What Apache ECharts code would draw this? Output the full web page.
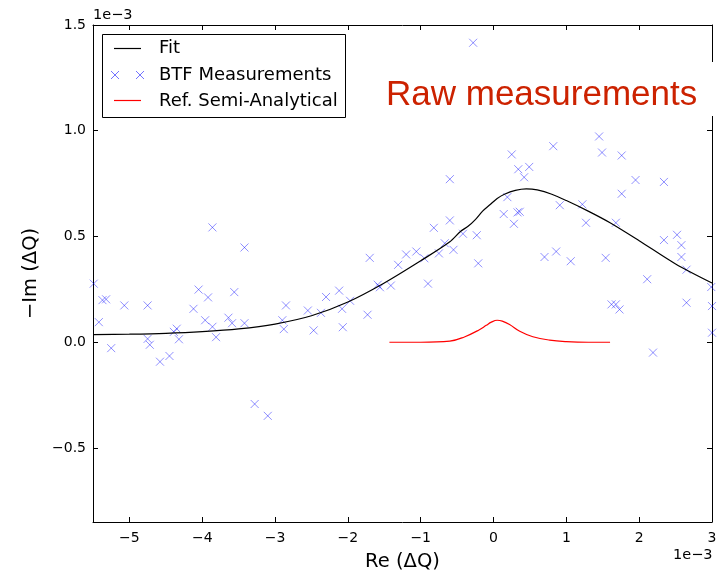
<!DOCTYPE html>
<html>
<head>
<meta charset="utf-8">
<script src="https://cdn.jsdelivr.net/npm/echarts@6/dist/echarts.min.js"></script>
<style>html,body{margin:0;padding:0;background:#fff;}#c{width:727px;height:573px;}</style>
</head>
<body>
<div id="c"></div>
<script>
// values in units of 1e-3
const btfRe = [-5.49,-5.37,-5.32,-5.42,-5.25,-5.07,-4.75,-4.75,-4.72,-4.58,-4.45,-4.39,-4.35,-4.32,-4.12,-4.05,-3.92,-3.96,-3.86,-3.86,-3.81,-3.64,-3.59,-3.56,-3.42,-3.42,-3.28,-3.10,-2.85,-2.90,-2.88,-2.55,-2.47,-2.37,-2.30,-2.12,-2.08,-2.07,-1.97,-1.73,-1.70,-1.59,-1.56,-1.41,-1.31,-1.20,-1.06,-0.95,-0.90,-0.82,-0.75,-0.67,-0.60,-0.55,-0.42,-0.23,-0.21,0.14,0.28,0.33,0.36,-0.28,-0.60,0.25,0.34,0.19,0.49,0.42,0.82,1.45,1.49,1.76,1.76,1.95,2.34,0.91,1.22,1.27,1.68,0.70,0.86,1.06,1.54,1.62,1.68,1.73,2.11,2.19,2.34,2.52,2.58,2.58,2.65,2.65,2.99,3.0,3.0];
const btfIm = [0.277,0.199,0.203,0.095,-0.028,0.174,0.174,0.016,-0.012,-0.092,-0.065,0.049,0.064,0.014,0.158,0.249,0.212,0.104,0.543,0.073,0.024,0.116,0.090,0.237,0.448,0.090,-0.292,-0.348,0.174,0.104,0.062,0.150,0.056,0.139,0.214,0.244,0.158,0.071,0.196,0.130,0.399,0.272,0.260,0.268,0.366,0.415,0.429,0.397,0.277,0.541,0.420,0.468,0.576,0.437,0.513,0.506,0.373,0.606,0.560,0.614,0.617,1.416,0.771,0.888,0.818,0.686,0.829,0.780,0.927,0.973,0.897,0.883,0.702,0.767,0.758,0.648,0.652,0.565,0.565,0.403,0.429,0.383,0.399,0.179,0.179,0.155,0.298,-0.049,0.483,0.508,0.459,0.403,0.343,0.187,0.261,0.171,0.045];

const fitRe = [-5.5,-5.0,-4.5,-4.0,-3.5,-3.0,-2.5,-2.0,-1.5,-1.0,-0.6,-0.45,-0.35,-0.25,-0.15,-0.05,0.05,0.15,0.3,0.45,0.6,0.8,1.0,1.3,1.6,2.0,2.5,3.0];
const fitIm = [0.036,0.038,0.042,0.050,0.063,0.086,0.125,0.190,0.280,0.385,0.475,0.525,0.548,0.580,0.620,0.650,0.680,0.700,0.718,0.725,0.720,0.700,0.670,0.620,0.565,0.480,0.370,0.280];

const refRe = [-1.43,-1.0,-0.6,-0.4,-0.2,-0.1,-0.03,0.05,0.12,0.22,0.36,0.54,0.77,1.0,1.3,1.6];
const refIm = [0.0,0.0,0.005,0.025,0.058,0.080,0.095,0.104,0.100,0.084,0.052,0.026,0.010,0.003,0.0,0.0];

const xTicks = [-5,-4,-3,-2,-1,0,1,2,3];
const yTicks = [-0.5,0.0,0.5,1.0,1.5];

const zip = (a,b) => a.map((v,i)=>[v,b[i]]);
const minus = s => String(s).replace('-', '\u2212');
const FONT = 'DejaVu Sans';

const chart = echarts.init(document.getElementById('c'), null, {renderer:'canvas'});

const baseX = {
  type:'value', min:-5.5, max:3,
  axisLine:{show:true, onZero:false, lineStyle:{color:'#000', width:1}},
  axisTick:{show:true, inside:true, length:5, customValues:xTicks, lineStyle:{color:'#000'}},
  splitLine:{show:false}
};
const baseY = {
  type:'value', min:-0.85, max:1.5,
  axisLine:{show:true, onZero:false, lineStyle:{color:'#000', width:1}},
  axisTick:{show:true, inside:true, length:5, customValues:yTicks, lineStyle:{color:'#000'}},
  splitLine:{show:false}
};

const cross = 'path://M0,0L10,10M10,0L0,10';
const xcol = 'rgba(0,0,255,0.55)';

function crossLines(cx, cy) {
  return [
    {type:'line', z:101, shape:{x1:cx-4, y1:cy-4, x2:cx+4, y2:cy+4}, style:{stroke:xcol, lineWidth:1}},
    {type:'line', z:101, shape:{x1:cx-4, y1:cy+4, x2:cx+4, y2:cy-4}, style:{stroke:xcol, lineWidth:1}}
  ];
}

chart.setOption({
  animation:false,
  backgroundColor:'#fff',
  grid:{left:93, right:15, top:25, bottom:51, containLabel:false, outerBoundsMode:'none'},
  xAxis:[
    Object.assign({}, baseX, {position:'bottom',
      name:'Re (\u0394Q)', nameLocation:'middle', nameGap:30,
      nameTextStyle:{fontFamily:FONT, fontSize:19.5, color:'#000'},
      axisLabel:{show:true, customValues:xTicks, margin:9, fontFamily:FONT, fontSize:14, color:'#000', formatter:v=>minus(v)}}),
    Object.assign({}, baseX, {position:'top', axisLabel:{show:false}})
  ],
  yAxis:[
    Object.assign({}, baseY, {position:'left',
      name:'\u2212Im (\u0394Q)', nameLocation:'middle', nameGap:47, nameRotate:90,
      nameTextStyle:{fontFamily:FONT, fontSize:19.5, color:'#000'},
      axisLabel:{show:true, customValues:yTicks, margin:7, fontFamily:FONT, fontSize:14, color:'#000', formatter:v=>minus(v.toFixed(1))}}),
    Object.assign({}, baseY, {position:'right', axisLabel:{show:false}})
  ],
  series:[
    {type:'line', name:'Fit', data:zip(fitRe,fitIm), smooth:0.3, symbol:'none',
     lineStyle:{color:'#000', width:1.2}, z:3},
    {type:'scatter', name:'BTF Measurements', data:zip(btfRe,btfIm), symbol:cross, symbolSize:8,
     itemStyle:{color:'rgba(0,0,0,0)', borderColor:xcol, borderWidth:1}, clip:false, z:2},
    {type:'line', name:'Ref. Semi-Analytical', data:zip(refRe,refIm), smooth:0.4, symbol:'none',
     lineStyle:{color:'#ff0000', width:1.2}, z:3}
  ],
  graphic:[
    {type:'text', z:100, x:93, y:8, style:{text:'1e\u22123', font:'14.5px "DejaVu Sans"', fill:'#000'}},
    {type:'text', z:100, x:673, y:548, style:{text:'1e\u22123', font:'14.5px "DejaVu Sans"', fill:'#000'}},
    {type:'rect', z:100, shape:{x:380, y:62, width:345, height:54}, style:{fill:'#fff'}},
    {type:'text', z:101, x:386, y:112.5, style:{text:'Raw measurements', font:'35px "Liberation Sans"', fill:'#cc2200', verticalAlign:'bottom'}},
    {type:'rect', z:100, shape:{x:102.5, y:34.5, width:243, height:83}, style:{fill:'#fff', stroke:'#000', lineWidth:1}},
    {type:'line', z:101, shape:{x1:114, y1:48.5, x2:141, y2:48.5}, style:{stroke:'#000', lineWidth:1.2}},
    ...crossLines(115, 75),
    ...crossLines(140, 75),
    {type:'line', z:101, shape:{x1:114, y1:100.5, x2:141, y2:100.5}, style:{stroke:'#ff0000', lineWidth:1.2}},
    {type:'text', z:101, x:159, y:48.5, style:{text:'Fit', font:'18px "DejaVu Sans"', fill:'#000', verticalAlign:'middle'}},
    {type:'text', z:101, x:159, y:75, style:{text:'BTF Measurements', font:'18px "DejaVu Sans"', fill:'#000', verticalAlign:'middle'}},
    {type:'text', z:101, x:159, y:101, style:{text:'Ref. Semi-Analytical', font:'18px "DejaVu Sans"', fill:'#000', verticalAlign:'middle'}}
  ]
});
</script>
</body>
</html>
